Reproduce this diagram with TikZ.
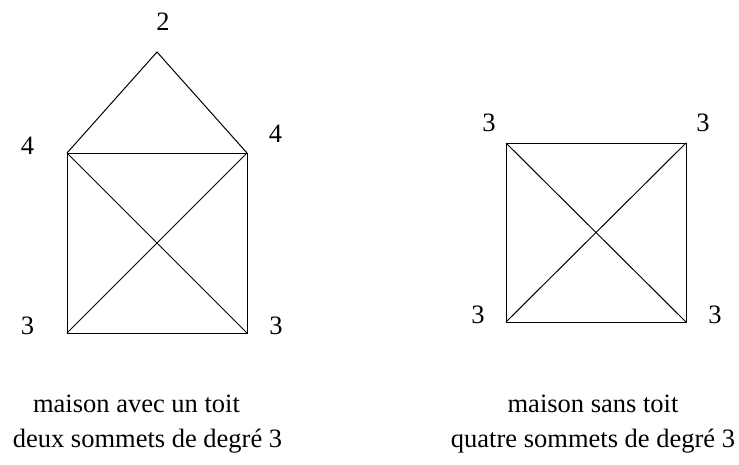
\documentclass[tikz,border=0pt]{standalone}
\usepackage{fontspec}
\setmainfont{Liberation Serif}
\begin{document}
\begin{tikzpicture}[x=1pt,y=-1pt,line width=1pt,
  deg/.style={anchor=base,inner sep=0pt,font=\fontsize{26.5}{30}\selectfont},
  caption/.style={anchor=base,inner sep=0pt,font=\fontsize{26.5}{30}\selectfont}]
\useasboundingbox (0,0) rectangle (739,464);
\coordinate (A1) at (67,333);
\coordinate (A2) at (247,333);
\coordinate (A3) at (247,153);
\coordinate (A4) at (67,153);
\coordinate (A5) at (157,52);
\draw (A1) -- (A2) -- (A3) -- (A4) -- cycle;
\draw (A1) -- (A3);
\draw (A2) -- (A4);
\draw (A4) -- (A5) -- (A3);
\node[deg] (dA1) at (27.5,334) {3};
\node[deg] (dA2) at (276,334) {3};
\node[deg] (dA3) at (275.5,142) {4};
\node[deg] (dA4) at (27.5,154) {4};
\node[deg] (dA5) at (163,30) {2};
\coordinate (B1) at (506,322);
\coordinate (B2) at (686,322);
\coordinate (B3) at (686,143);
\coordinate (B4) at (506,143);
\draw (B1) -- (B2) -- (B3) -- (B4) -- cycle;
\draw (B1) -- (B3);
\draw (B2) -- (B4);
\node[deg] (dB1) at (478,323) {3};
\node[deg] (dB2) at (715,323) {3};
\node[deg] (dB3) at (703,131) {3};
\node[deg] (dB4) at (489,131) {3};
\node[caption] (capA) at (136.5,412) {maison avec un toit};
\node[caption] (subA) at (147.5,447) {deux sommets de degré 3};
\node[caption] (capB) at (593,412) {maison sans toit};
\node[caption] (subB) at (593,447) {quatre sommets de degré 3};
\end{tikzpicture}
\end{document}
